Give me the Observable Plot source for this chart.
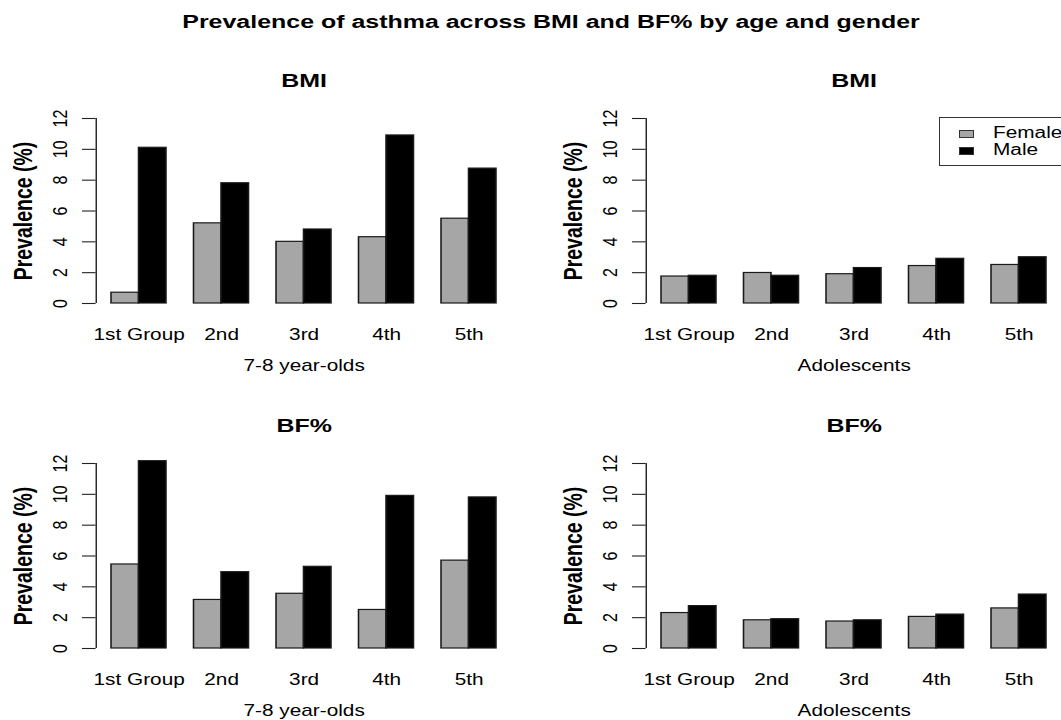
<!DOCTYPE html>
<html>
<head>
<meta charset="utf-8">
<script src="https://cdn.jsdelivr.net/npm/d3@7"></script>
<script src="https://cdn.jsdelivr.net/npm/@observablehq/plot@0.6"></script>
<style>
  body { margin: 0; background: #fff; }
  #root { position: relative; width: 1061px; height: 720px; overflow: hidden; background: #fff;
          font-family: "Liberation Sans", Arial, Helvetica, sans-serif; color: #000; }
  .panel { position: absolute; }
  .maintitle { position: absolute; left: 0; top: 12px; width: 1102px; text-align: center;
               font-weight: bold; font-size: 19.2px; line-height: 1; white-space: nowrap;
               transform: scaleX(1.3); transform-origin: 551px 0; }
  .legend { position: absolute; left: 939px; top: 117px; width: 200px; height: 49px;
            box-sizing: border-box; border: 1.2px solid #333; background: #fff; }
  .sw { position: absolute; width: 15px; height: 8px; box-sizing: border-box; border: 1px solid #333; }
  .lt { position: absolute; font-size: 16px; line-height: 16px; white-space: nowrap;
        transform: scaleX(1.3); transform-origin: 0 0; }
</style>
</head>
<body>
<div id="root"></div>
<script>
// ---- data ----
const groups = ["1st Group", "2nd", "3rd", "4th", "5th"];
const genders = ["Female", "Male"];
const yTicks = [0, 2, 4, 6, 8, 10, 12];

const bmiChildFemale = [0.7, 5.2, 4.0, 4.3, 5.5];
const bmiChildMale   = [10.1, 7.8, 4.8, 10.9, 8.75];
const bmiAdolFemale  = [1.75, 1.98, 1.9, 2.43, 2.5];
const bmiAdolMale    = [1.8, 1.8, 2.3, 2.9, 3.0];
const bfChildFemale  = [5.45, 3.15, 3.55, 2.5, 5.7];
const bfChildMale    = [12.15, 4.95, 5.3, 9.9, 9.8];
const bfAdolFemale   = [2.3, 1.83, 1.75, 2.05, 2.6];
const bfAdolMale     = [2.75, 1.9, 1.83, 2.2, 3.5];

const mainTitle = "Prevalence of asthma across BMI and BF% by age and gender";
const yLabel = "Prevalence (%)";

// ---- layout ----
const S = 1.3;               // horizontal stretch of the original device
const PANEL_W = 550, PANEL_H = 315;
const genderColors = ["#a6a6a6", "#000000"];
// R barplot coordinates: bars at 1..15, axis range extended by 4%
const xDomain = [1 - 0.04 * 14, 15 + 0.04 * 14];
const FONT = "'Liberation Sans', Arial, Helvetica, sans-serif";

function panel(title, xlabel, female, male) {
  const rows = [];
  groups.forEach((g, i) => {
    [female[i], male[i]].forEach((v, j) => {
      rows.push({group: g, gender: genders[j], value: v, x1: 1 + 3 * i + j, x2: 2 + 3 * i + j});
    });
  });
  const svg = Plot.plot({
    width: PANEL_W / S,
    height: PANEL_H,
    marginLeft: 95.6 / S,
    marginRight: (PANEL_W - 511.4) / S,
    marginTop: 58,
    marginBottom: 72,
    x: {domain: xDomain, axis: null},
    y: {domain: [0, 12], axis: null},
    color: {domain: genders, range: genderColors},
    style: {fontFamily: FONT, fontSize: "16px", color: "#000", background: "transparent", overflow: "visible"},
    marks: [
      Plot.rect(rows, {x1: "x1", x2: "x2", y1: 0, y2: "value", fill: "gender", stroke: "#1a1a1a", strokeWidth: 1.2}),
      Plot.ruleX([xDomain[0]], {x: d => d, y1: 0, y2: 12, stroke: "#222", strokeWidth: 1.1}),
      Plot.ruleY(yTicks, {y: d => d, x1: xDomain[0], x2: xDomain[0], insetLeft: -10.5, stroke: "#222", strokeWidth: 1.1}),
      Plot.text(yTicks, {x: xDomain[0], y: d => d, text: d => String(d), rotate: -90, dx: -27.4,
                         textAnchor: "middle", lineAnchor: "middle", fontSize: 16, fill: "#000"}),
      Plot.text([yLabel], {frameAnchor: "left", text: d => d, rotate: -90, dx: -55.8,
                           textAnchor: "middle", lineAnchor: "middle", fontSize: 19.5, fontWeight: "bold", fill: "#000"}),
      Plot.text(groups, {x: (d, i) => 2 + 3 * i, frameAnchor: "bottom", text: d => d, dy: 31,
                         lineAnchor: "middle", fontSize: 16, fill: "#000"}),
      Plot.text([xlabel], {frameAnchor: "bottom", text: d => d, dy: 62, lineAnchor: "middle", fontSize: 16, fill: "#000"}),
      Plot.text([title], {frameAnchor: "top", text: d => d, dy: -38, lineAnchor: "middle",
                          fontWeight: "bold", fontSize: 19.2, fill: "#000"})
    ]
  });
  svg.setAttribute("preserveAspectRatio", "none");
  svg.style.width = PANEL_W + "px";
  svg.style.height = PANEL_H + "px";
  svg.style.maxWidth = "none";
  return svg;
}

const root = document.getElementById("root");

const t = document.createElement("div");
t.className = "maintitle";
t.textContent = mainTitle;
root.appendChild(t);

const panels = [
  {title: "BMI", xlabel: "7-8 year-olds", f: bmiChildFemale, m: bmiChildMale, left: 0, top: 60},
  {title: "BMI", xlabel: "Adolescents", f: bmiAdolFemale, m: bmiAdolMale, left: 550, top: 60},
  {title: "BF%", xlabel: "7-8 year-olds", f: bfChildFemale, m: bfChildMale, left: 0, top: 405},
  {title: "BF%", xlabel: "Adolescents", f: bfAdolFemale, m: bfAdolMale, left: 550, top: 405}
];
for (const p of panels) {
  const d = document.createElement("div");
  d.className = "panel";
  d.style.left = p.left + "px";
  d.style.top = p.top + "px";
  d.appendChild(panel(p.title, p.xlabel, p.f, p.m));
  root.appendChild(d);
}

// legend (top-right panel)
const lg = document.createElement("div");
lg.className = "legend";
genders.forEach((g, i) => {
  const sw = document.createElement("div");
  sw.className = "sw";
  sw.style.left = "19px";
  sw.style.top = (12 + 17 * i) + "px";
  sw.style.background = genderColors[i];
  lg.appendChild(sw);
  const tx = document.createElement("div");
  tx.className = "lt";
  tx.style.left = "53px";
  tx.style.top = (7 + 17 * i) + "px";
  tx.textContent = g;
  lg.appendChild(tx);
});
root.appendChild(lg);
</script>
</body>
</html>
